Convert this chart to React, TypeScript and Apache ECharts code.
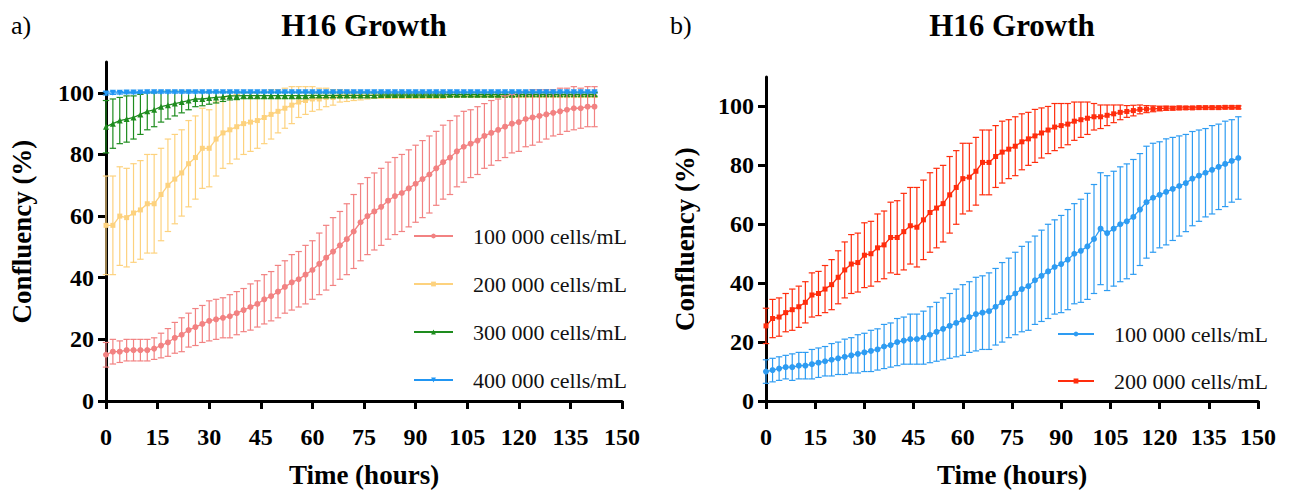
import React, { useEffect, useRef } from "react";
import * as echarts from "echarts";

const SERIF = "'Liberation Serif', 'Times New Roman', serif";

// ---------- Data ----------
const HOURS_A = [0,2,4,6,8,10,12,14,16,18,20,22,24,26,28,30,32,34,36,38,40,42,44,46,48,50,52,54,56,58,60,62,64,66,68,70,72,74,76,78,80,82,84,86,88,90,92,94,96,98,100,102,104,106,108,110,112,114,116,118,120,122,124,126,128,130,132,134,136,138,140,142];
const HOURS_B = [0,2,4,6,8,10,12,14,16,18,20,22,24,26,28,30,32,34,36,38,40,42,44,46,48,50,52,54,56,58,60,62,64,66,68,70,72,74,76,78,80,82,84,86,88,90,92,94,96,98,100,102,104,106,108,110,112,114,116,118,120,122,124,126,128,130,132,134,136,138,140,142,144];

const Y_TICKS = [0, 20, 40, 60, 80, 100];

const LEGEND_A = ["100 000 cells/mL", "200 000 cells/mL", "300 000 cells/mL", "400 000 cells/mL"];
const LEGEND_B = ["100 000 cells/mL", "200 000 cells/mL"];

// panel a) means and SDs
const A100_MEAN = [15,16,16,16.5,16.5,16.5,16.5,17,18,19, 20.5,21.5,23,24,25,26,26.5,27,27.5,28.5, 29.5,30.5,31.5,33,34,35.5,37,38.5,39.5,41, 42.5,44.5,46.5,48.5,50.5,52.5,55,58,60,61.5, 63,65,66.5,67.5,69,70.5,72,73.5,75.5,77.5, 79,81,82.5,83.5,84.5,86,87,88,89,90, 90.5,91.5,92,92.5,93,93.5,94,94.5,95,95, 95.5,95.5];
const A100_SD = [4,4,3.5,3.5,3.5,3.5,3.5,3.5,4,4.5, 5,5.5,5.5,6,6,6.5,6.5,6.5,7,7, 7,7.5,7.5,8,8,8.5,8.5,9,9,9.5, 9.5,10,10.5,11,11,11.5,12,12.5,12.5,12.5, 12.5,12.5,12.5,12.5,12.5,12.5,12.5,12.5,12,12, 12,11.5,11.5,11,11,10.5,10.5,10,10,9.5, 9.5,9,9,8.5,8,7.5,7.5,7,7,6.5, 6.5,6.5];

const A200_MEAN = [57,57,60,59.5,61,62,64,64,67,70, 72,74,77,79,82,82,85,87,88,89, 90,90.5,91,92,93,94,95,96,97,97.5, 98,98,98.5,98.5,99,99,99,99,99.2,99.2, 99.2,99.2,99.2,99.2,99.2,99.2,99.2,99.2,99.2,99.2, 99.3,99.3,99.3,99.3,99.3,99.3,99.3,99.3,99.3,99.3, 99.3,99.3,99.3,99.3,99.3,99.3,99.3,99.3,99.3,99.3, 99.3,99.3];
const A200_SD = [16,16,16,16,16,16,16,16,15,15, 14.5,14,14,13.5,13,12.5,12,11.5,11,10.5, 10,9.5,9,8.5,8,7,6.5,6,5,4.5, 4,3.5,3,2.5,2,1.8,1.5,1.3,1.2,1, 1,1,1,1,1,1,1,1,1,1, 0.8,0.8,0.8,0.8,0.8,0.8,0.8,0.8,0.8,0.8, 0.8,0.8,0.8,0.8,0.8,0.8,0.8,0.8,0.8,0.8, 0.8,0.8];

const A300_MEAN = [89,90,91,91.5,92,93,94,94.5,95.5,96, 96.5,97,97.5,98,98,98.3,98.5,98.7,99,99, 99.1,99.1,99.1,99.1,99.1,99.1,99.1,99.1,99.1,99.1, 99.2,99.2,99.2,99.2,99.2,99.2,99.2,99.2,99.2,99.2, 99.3,99.3,99.3,99.3,99.3,99.3,99.3,99.3,99.3,99.3, 99.4,99.4,99.4,99.4,99.4,99.4,99.4,99.4,99.4,99.4, 99.5,99.5,99.5,99.5,99.5,99.5,99.5,99.5,99.5,99.5, 99.5,99.5];
const A300_SD = [8.5,8,7.5,7.5,7,6.5,6,5.5,5,4.5, 4,3.5,3,2.5,2.2,2,1.8,1.5,1.3,1.2, 1,1,1,1,1,1,1,1,1,1, 0.8,0.8,0.8,0.8,0.8,0.8,0.8,0.8,0.8,0.8, 0.6,0.6,0.6,0.6,0.6,0.6,0.6,0.6,0.6,0.6, 0.6,0.6,0.6,0.6,0.6,0.6,0.6,0.6,0.6,0.6, 0.6,0.6,0.6,0.6,0.6,0.6,0.6,0.6,0.6,0.6, 0.6,0.6];

const A400_MEAN = [99.8,100,100,100.1,100.1,100.1,100.2,100.2,100.2,100.2, 100.2,100.2,100.2,100.2,100.2,100.2,100.2,100.2,100.2,100.2, 100.2,100.2,100.2,100.2,100.2,100.2,100.2,100.2,100.2,100.2, 100.2,100.2,100.2,100.2,100.2,100.2,100.2,100.2,100.2,100.2, 100.2,100.2,100.2,100.2,100.2,100.2,100.2,100.2,100.2,100.2, 100.2,100.2,100.2,100.2,100.2,100.2,100.2,100.2,100.2,100.2, 100.2,100.2,100.2,100.2,100.2,100.2,100.2,100.2,100.2,100.2, 100.2,100.2];
const A400_SD = [0.5,0.5,0.4,0.4,0.4,0.3,0.3,0.3,0.3,0.3, 0.3,0.3,0.3,0.3,0.3,0.3,0.3,0.3,0.3,0.3, 0.3,0.3,0.3,0.3,0.3,0.3,0.3,0.3,0.3,0.3, 0.3,0.3,0.3,0.3,0.3,0.3,0.3,0.3,0.3,0.3, 0.3,0.3,0.3,0.3,0.3,0.3,0.3,0.3,0.3,0.3, 0.3,0.3,0.3,0.3,0.3,0.3,0.3,0.3,0.3,0.3, 0.3,0.3,0.3,0.3,0.3,0.3,0.3,0.3,0.3,0.3, 0.3,0.3];

// panel b) means and SDs
const B100_MEAN = [10,10.5,11,11.5,11.5,12,12,12.5,13,13.5, 14,14.5,15,15.5,16,16.5,17,17.5,18.5,19, 20,20.5,21,21,21.5,22.5,23.5,24.5,25.5,26.5, 27.5,28.5,29.5,30,30.5,32,33.5,35,36.5,38, 39,41,42.5,44,45.5,46.5,48,50,51,52.5, 55,58.5,57,58.5,60,61,62.5,65,67.5,69, 70,71,72,73,74,75.5,76.5,77.5,78.5,79.5, 80.5,81.5,82.5];
const B100_SD = [4,4,4,4,4.5,4.5,4.5,5,5,5, 5.5,5.5,6,6,6.5,6.5,7,7,7.5,7.5, 8,8,8.5,8.5,9,9.5,10,10.5,11,11.5, 12,12,12.5,12.5,13,13,13.5,13.5,14,14.5, 15,15,15.5,16,16,16.5,17,17,17.5,18, 18.5,19,19.5,19.5,19.5,19.5,19.5,19,19,18.5, 18,18,17.5,17,16.5,16,15.5,15,15,14.5, 14.5,14,14];

const B200_MEAN = [25.5,28,28.5,30,31,32,33.5,36,36.5,38, 39.5,42,44.5,46.5,47,49.5,50,52,53,55.5, 55.5,57.5,59.5,59,61.5,64,65.5,67,70,72.5, 75.5,76,78,81,81,83,84.5,85.5,86.5,88, 89,90,91,92,93,93.5,94,95,95.5,96, 96.5,96.5,97,97.5,98,98.3,98.6,99,99.1,99.2, 99.3,99.4,99.4,99.5,99.5,99.5,99.6,99.6,99.6,99.6, 99.7,99.7,99.7];
const B200_SD = [6,6.5,6.5,6.5,7,7,7,7.5,7.5,8, 8.5,9,9.5,10,10,11,11,11.5,11.5,12, 12.5,13,13,13.5,13.5,13.5,13.5,13,13,12.5, 12,11.5,11.5,11,11,10.5,10.5,10,10,9.5, 9,9,8.5,8,8,7.5,7,6.5,6,5.5, 4.5,4,3.5,3,2.5,2,1.8,1.5,1.2,1, 0.8,0.7,0.6,0.6,0.5,0.5,0.5,0.5,0.5,0.5, 0.5,0.5,0.5];

// ---------- Styles ----------
const COL_A = ["#F28282", "#FDD27E", "#1E8C1E", "#2196F3"];
const COL_B = ["#2E9CF2", "#FF2D0D"];

const pts = (hours: number[], mean: number[]) => hours.map((t, i) => [t, mean[i]]);
const bars = (hours: number[], mean: number[], sd: number[]) =>
  hours.map((t, i) => [t, mean[i] - sd[i], mean[i] + sd[i]]);

const errorRender = (params: any, api: any) => {
  const x = api.value(0);
  const lo = api.coord([x, api.value(1)]);
  const hi = api.coord([x, api.value(2)]);
  const w = 3.2;
  const style = { stroke: api.visual("color"), lineWidth: 1.2, fill: null };
  return {
    type: "group",
    children: [
      { type: "line", shape: { x1: lo[0], y1: lo[1], x2: hi[0], y2: hi[1] }, style },
      { type: "line", shape: { x1: hi[0] - w, y1: hi[1], x2: hi[0] + w, y2: hi[1] }, style },
      { type: "line", shape: { x1: lo[0] - w, y1: lo[1], x2: lo[0] + w, y2: lo[1] }, style },
    ],
  };
};

const xAxisFor = (gridIndex: number) => ({
  type: "value",
  gridIndex,
  min: 0,
  max: 150,
  interval: 15,
  axisLine: { lineStyle: { color: "#000", width: 3 } },
  axisTick: { length: 8, lineStyle: { color: "#000", width: 3 } },
  axisLabel: { color: "#000", fontFamily: SERIF, fontWeight: "bold", fontSize: 24, margin: 24 },
  splitLine: { show: false },
  name: "Time (hours)",
  nameLocation: "middle",
  nameGap: 60,
  nameTextStyle: { color: "#000", fontFamily: SERIF, fontWeight: "bold", fontSize: 27 },
});

const yAxisFor = (gridIndex: number, nameGap: number) => ({
  type: "value",
  gridIndex,
  min: 0,
  max: 110,
  axisLine: { show: true, lineStyle: { color: "#000", width: 3 } },
  axisTick: { show: true, length: 8, customValues: Y_TICKS, lineStyle: { color: "#000", width: 3 } },
  axisLabel: { color: "#000", fontFamily: SERIF, fontWeight: "bold", fontSize: 24, margin: 12, customValues: Y_TICKS },
  splitLine: { show: false },
  name: "Confluency (%)",
  nameLocation: "middle",
  nameGap,
  nameTextStyle: { color: "#000", fontFamily: SERIF, fontWeight: "bold", fontSize: 27 },
});

type Spec = { id: string; grid: number; hours: number[]; mean: number[]; sd: number[]; color: string; symbol: string; rotate?: number; z: number };

const SPECS: Spec[] = [
  { id: "a1", grid: 0, hours: HOURS_A, mean: A100_MEAN, sd: A100_SD, color: COL_A[0], symbol: "circle", z: 4 },
  { id: "a2", grid: 0, hours: HOURS_A, mean: A200_MEAN, sd: A200_SD, color: COL_A[1], symbol: "rect", z: 2 },
  { id: "a3", grid: 0, hours: HOURS_A, mean: A300_MEAN, sd: A300_SD, color: COL_A[2], symbol: "triangle", z: 3 },
  { id: "a4", grid: 0, hours: HOURS_A, mean: A400_MEAN, sd: A400_SD, color: COL_A[3], symbol: "triangle", rotate: 180, z: 5 },
  { id: "b1", grid: 1, hours: HOURS_B, mean: B100_MEAN, sd: B100_SD, color: COL_B[0], symbol: "circle", z: 2 },
  { id: "b2", grid: 1, hours: HOURS_B, mean: B200_MEAN, sd: B200_SD, color: COL_B[1], symbol: "rect", z: 3 },
];

const LABEL_OF: Record<string, string> = {
  a1: LEGEND_A[0], a2: LEGEND_A[1], a3: LEGEND_A[2], a4: LEGEND_A[3],
  b1: LEGEND_B[0], b2: LEGEND_B[1],
};

const buildSeries = () => {
  const out: any[] = [];
  SPECS.forEach((s) => {
    out.push({
      type: "custom",
      name: s.id + "_err",
      xAxisIndex: s.grid,
      yAxisIndex: s.grid,
      renderItem: errorRender,
      data: bars(s.hours, s.mean, s.sd),
      encode: { x: 0, y: [1, 2] },
      itemStyle: { color: s.color },
      z: s.z,
      silent: true,
    });
  });
  SPECS.forEach((s) => {
    out.push({
      type: "line",
      name: s.id,
      xAxisIndex: s.grid,
      yAxisIndex: s.grid,
      data: pts(s.hours, s.mean),
      symbol: s.symbol,
      symbolRotate: s.rotate || 0,
      symbolSize: s.symbol === "rect" ? 5 : 6,
      showSymbol: true,
      lineStyle: { color: s.color, width: 1.3 },
      itemStyle: { color: s.color },
      z: s.z,
      silent: true,
      emphasis: { disabled: true },
    });
  });
  return out;
};

const legendFor = (names: string[], left: number, top: number, itemWidth: number, itemGap: number) => ({
  orient: "vertical",
  left,
  top,
  itemWidth,
  itemHeight: 6,
  itemGap,
  selectedMode: false,
  data: names,
  formatter: (n: string) => LABEL_OF[n],
  textStyle: { color: "#111", fontFamily: SERIF, fontSize: 22, lineHeight: 22, padding: [0, 0, 0, 15] },
});

export default function App() {
  const ref = useRef<HTMLDivElement>(null);
  useEffect(() => {
    if (!ref.current) return;
    const chart = echarts.init(ref.current, undefined, { renderer: "svg" });
    chart.setOption({
      animation: false,
      backgroundColor: "#fff",
      grid: [
        { left: 106, top: 62, width: 516, height: 340 },
        { left: 766, top: 77, width: 492, height: 327 },
      ],
      xAxis: [xAxisFor(0), xAxisFor(1)],
      yAxis: [yAxisFor(0, 71), yAxisFor(1, 68)],
      legend: [
        legendFor(["a1", "a2", "a3", "a4"], 408, 220, 39, 26),
        legendFor(["b1", "b2"], 1052, 318, 36, 25),
      ],
      graphic: [
        { type: "text", left: 11, top: 12, style: { text: "a)", font: `26px ${SERIF}`, fill: "#000" } },
        { type: "text", left: 670, top: 12, style: { text: "b)", font: `26px ${SERIF}`, fill: "#000" } },
        { type: "text", x: 364, y: 25, style: { text: "H16 Growth", font: `bold 31px ${SERIF}`, fill: "#000", textAlign: "center", textVerticalAlign: "middle" } },
        { type: "text", x: 1012, y: 25, style: { text: "H16 Growth", font: `bold 31px ${SERIF}`, fill: "#000", textAlign: "center", textVerticalAlign: "middle" } },
      ],
      series: buildSeries(),
    });
    return () => chart.dispose();
  }, []);
  return <div ref={ref} style={{ position: "absolute", left: 0, top: 0, width: 1290, height: 493 }} />;
}
